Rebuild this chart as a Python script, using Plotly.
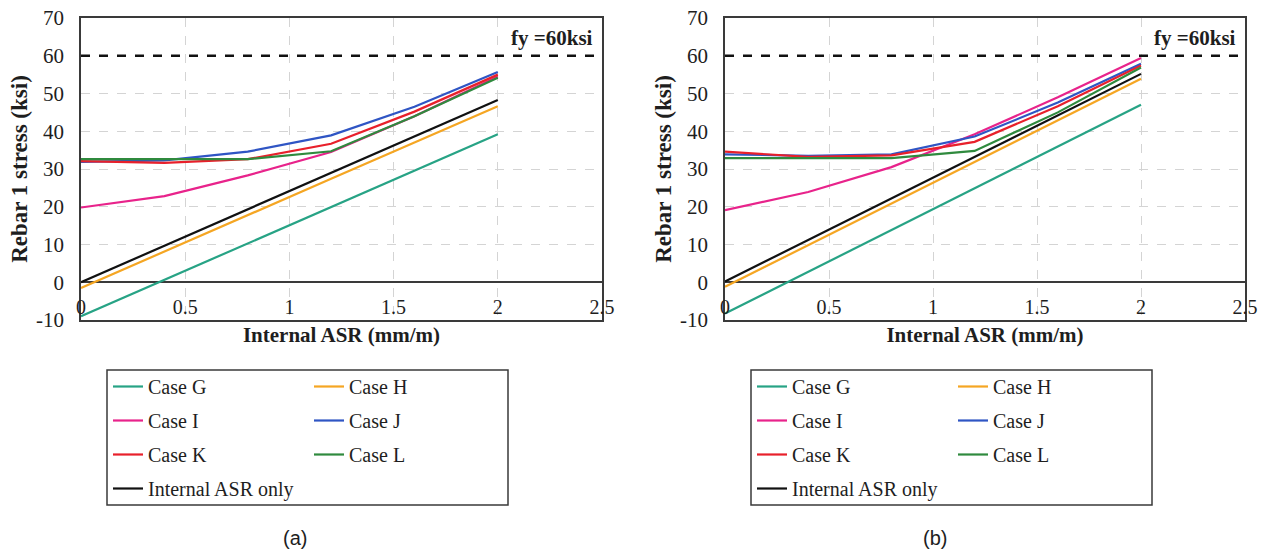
import plotly.graph_objects as go

W, H = 1267, 554

# ---------------- data ----------------
x_asr = [0, 0.4, 0.8, 1.2, 1.6, 2.0]
x_ticks = [0, 0.5, 1, 1.5, 2, 2.5]
x_tick_labels = ["0", "0.5", "1", "1.5", "2", "2.5"]
y_ticks = [-10, 0, 10, 20, 30, 40, 50, 60, 70]
y_tick_labels = ["-10", "0", "10", "20", "30", "40", "50", "60", "70"]
fy_value = [60, 60]
fy_x = [0, 2.5]

case_names = ["Case G", "Case H", "Case I", "Case J", "Case K", "Case L", "Internal ASR only"]
case_colors = ["#27a385", "#f5a623", "#e8238b", "#2f55c4", "#e8202b", "#2f8a3e", "#111111"]

# panel (a)
a_G = [-9.0, 0.6, 10.2, 19.8, 29.5, 39.2]
a_H = [-1.5, 8.2, 17.8, 27.4, 37.0, 46.6]
a_I = [19.8, 22.8, 28.3, 34.5, 44.0, 54.5]
a_J = [31.9, 32.3, 34.6, 38.9, 46.5, 55.7]
a_K = [32.1, 31.6, 32.6, 36.7, 45.2, 55.0]
a_L = [32.6, 32.6, 32.6, 34.7, 44.0, 54.2]
a_int = [0.0, 9.7, 19.3, 29.0, 38.6, 48.3]

# panel (b)
b_G = [-8.3, 2.8, 13.8, 24.9, 35.9, 47.0]
b_H = [-1.2, 9.8, 20.8, 31.8, 42.8, 53.9]
b_I = [19.1, 23.9, 30.5, 39.2, 49.0, 59.4]
b_J = [33.9, 33.5, 33.9, 38.6, 47.6, 57.9]
b_K = [34.6, 33.2, 33.6, 37.2, 46.6, 57.4]
b_L = [32.9, 32.9, 32.9, 34.8, 45.0, 56.9]
b_int = [0.2, 11.2, 22.2, 33.1, 44.1, 55.2]

panel_a = [a_G, a_H, a_I, a_J, a_K, a_L, a_int]
panel_b = [b_G, b_H, b_I, b_J, b_K, b_L, b_int]

# ---------------- layout helpers (window pixel -> paper) ----------------
def px(xp):
    return xp / W

def py(yp):
    return 1 - yp / H

SERIF = "Liberation Serif"
TXT = "#1e1e1e"
FRAME = "#3a3a3a"

fig = go.Figure()

# column assignment of the legend (2-column layout)
col_of = [0, 1, 0, 1, 0, 1, 0]

for p, (data, xa, ya, legs) in enumerate([
    (panel_a, "x", "y", ["legend", "legend2"]),
    (panel_b, "x2", "y2", ["legend3", "legend4"]),
]):
    # yield-stress dashed line
    fig.add_trace(go.Scatter(
        x=fy_x, y=fy_value, mode="lines", xaxis=xa, yaxis=ya,
        line=dict(color="#111111", width=2.5, dash="dash"),
        showlegend=False, hoverinfo="skip",
    ))
    for i, (name, color, vals) in enumerate(zip(case_names, case_colors, data)):
        fig.add_trace(go.Scatter(
            x=x_asr, y=vals, mode="lines", name=name, xaxis=xa, yaxis=ya,
            line=dict(color=color, width=2.2),
            legend=legs[col_of[i]], legendgroup=f"p{p}_{i}",
        ))

# axes
def xaxis(domain, anchor):
    return dict(
        domain=domain, anchor=anchor, automargin=False,
        range=[0, 2.5], tickvals=x_ticks, ticktext=x_tick_labels,
        showgrid=True, gridcolor="#d4d4d4", griddash="dash", gridwidth=1,
        zeroline=False, showline=True, mirror=True, linecolor=FRAME, linewidth=1.5,
        ticks="", ticklabelposition="inside", ticklabeloverflow="allow",
        ticklabelstandoff=3,
        tickfont=dict(family=SERIF, size=20, color=TXT),
        title=dict(text="Internal ASR (mm/m)", standoff=10,
                   font=dict(family=SERIF, size=21, color=TXT, weight="bold")),
    )

def yaxis(domain, anchor):
    return dict(
        domain=domain, range=[-10, 70], tickvals=y_ticks, ticktext=y_tick_labels,
        anchor=anchor, automargin=False,
        showgrid=True, gridcolor="#d4d4d4", griddash="dash", gridwidth=1,
        zeroline=True, zerolinecolor=FRAME, zerolinewidth=1.5,
        showline=True, mirror=True, linecolor=FRAME, linewidth=1.5,
        ticks="", ticklabelstandoff=11, ticklabeloverflow="allow",
        tickfont=dict(family=SERIF, size=21, color=TXT),
        title=dict(text="Rebar 1 stress (ksi)", standoff=2,
                   font=dict(family=SERIF, size=23, color=TXT, weight="bold")),
    )

ydom = [py(320), py(18)]
layout = dict(
    width=W, height=H,
    margin=dict(l=0, r=0, t=0, b=0, autoexpand=False),
    paper_bgcolor="white", plot_bgcolor="white",
    xaxis=xaxis([px(81), px(602)], "y"),
    yaxis=yaxis(ydom, "x"),
    xaxis2=xaxis([px(725), px(1245)], "y2"),
    yaxis2=yaxis(ydom, "x2"),
)

leg_common = dict(
    orientation="v", xanchor="left", yanchor="top",
    bgcolor="rgba(0,0,0,0)", borderwidth=0,
    font=dict(family=SERIF, size=20, color=TXT),
    tracegroupgap=5, itemclick=False, itemdoubleclick=False,
)
leg_top = py(367)
layout["legend"] = dict(leg_common, x=px(108), y=leg_top)
layout["legend2"] = dict(leg_common, x=px(309), y=leg_top)
layout["legend3"] = dict(leg_common, x=px(752), y=leg_top)
layout["legend4"] = dict(leg_common, x=px(953), y=leg_top)

fig.update_layout(**layout)

# legend frames
for x0, x1 in [(107, 508), (751, 1152)]:
    fig.add_shape(type="rect", xref="paper", yref="paper",
                  x0=px(x0), x1=px(x1), y0=py(505), y1=py(370),
                  line=dict(color=FRAME, width=1.5), fillcolor="rgba(0,0,0,0)")

# fy annotations
for xr, yr in [("x domain", "y"), ("x2 domain", "y2")]:
    fig.add_annotation(x=1, y=fy_value[0], xref=xr, yref=yr,
                       text="fy =60ksi", showarrow=False,
                       xanchor="right", yanchor="bottom", xshift=-7, yshift=4,
                       font=dict(family=SERIF, size=21, color=TXT, weight="bold"))

# panel labels
for lab, xc in [("(a)", 295), ("(b)", 935)]:
    fig.add_annotation(x=px(xc), y=py(538), xref="paper", yref="paper",
                       text=lab, showarrow=False, xanchor="center", yanchor="middle",
                       font=dict(family="Liberation Sans", size=20, color=TXT))

# remove the default page margin so the figure fills the window from its corner
fig.write_html("out.html", config={"displayModeBar": False},
               post_script="document.body.style.margin='0';")
